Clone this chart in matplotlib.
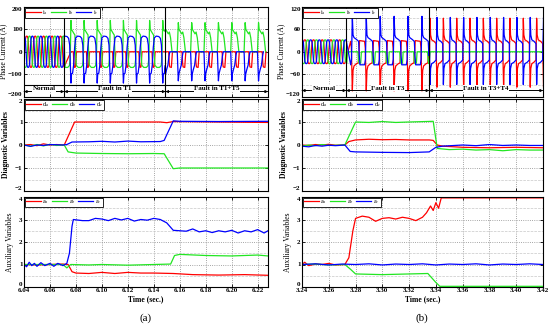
import numpy as np
import matplotlib.pyplot as plt
from matplotlib.ticker import MultipleLocator

plt.rcParams['font.family'] = ['Liberation Serif', 'DejaVu Serif']
plt.rcParams['mathtext.fontset'] = 'stix'

RED, GREEN, BLUE = '#ff0000', '#22e622', '#0000ff'

# ---------------- (a) phase currents : one cycle read per segment ----------------
a_t_start, a_t_fault1, a_t_fault2, a_t_end = 6.04, 6.071, 6.149, 6.228
a_norm_period, a_norm_first = 0.0065, 6.0405
a_f1_period, a_f1_first = 0.0101, 6.0762
a_f2_period, a_f2_first = 0.0103, 6.1589

norm_frac = [0, 1/12, 2/12, 3/12, 4/12, 5/12, 6/12, 7/12, 8/12, 9/12, 10/12, 11/12]
norm_shape = [0, 0.8, 0.97, 1.0, 0.97, 0.8, 0, -0.8, -0.97, -1.0, -0.97, -0.8]
a_norm_amp = 70

a_f1_green_frac = [0, .04, .12, .22, .30, .34, .40, .55, .75, .88, .94, .97]
a_f1_green = [140, 100, 92, 82, 75, 10, -60, -70, -70, -62, -30, 60]
a_f1_blue_frac = [0, .04, .12, .20, .28, .36, .50, .70, .82, .90, .95, .98]
a_f1_blue = [-140, -100, -96, -60, 20, 62, 70, 68, 60, 30, -60, -120]
a_f1_red_frac = [0, .18, .22, .26, .34, .38, .42]
a_f1_red = [0, 0, -50, -70, -68, -30, 0]

a_f2_green_frac = [0, .05, .15, .25, .33, .42, .48, .53, .92, .96]
a_f2_green = [130, 100, 90, 80, 88, 62, 30, 0, 0, 60]
a_f2_blue_frac = [0, .04, .12, .22, .30, .36, .92, .96]
a_f2_blue = [-130, -100, -80, -60, -20, 0, 0, -60]
a_f2_red_frac = [0, .28, .32, .36, .48, .52, .56]
a_f2_red = [0, 0, -50, -68, -70, -35, 0]

# ---------------- (b) phase currents ----------------
b_t_start, b_t_fault1, b_t_fault2, b_t_end = 3.24, 3.273, 3.335, 3.42
b_norm_period, b_norm_first = 0.0065, 3.2405
b_f1_period, b_f1_first = 0.0104, 3.2776
b_f2_period, b_f2_first = 0.00995, 3.3456
b_norm_amp = 32

b_f1_blue_frac = [0, .05, .12, .30, .45, .50, .55, .88, .94, .98]
b_f1_blue = [95, 45, 38, 33, 28, -10, -35, -35, -20, 50]
b_f1_red_frac = [0, .05, .12, .30, .42, .48, .52, .88, .93, .97]
b_f1_red = [-105, -50, -38, -32, -30, 0, 30, 28, 10, -60]
b_f1_green_frac = [0, .40, .45, .50, .60, .65]
b_f1_green = [0, 0, -25, -32, -30, 0]

b_f2_red_frac = [0, .04, .12, .30, .45, .49, .52, .56, .64, .80, .95, .98]
b_f2_red = [90, 45, 32, 28, 22, -40, -95, -45, -32, -28, -22, 40]
b_f2_blue_frac = [0, .04, .12, .30, .45, .49, .52, .56, .64, .80, .95, .98]
b_f2_blue = [-88, -45, -32, -28, -22, 40, 92, 45, 32, 28, 22, -40]
b_f2_green_frac = [0, .5]
b_f2_green = [0, 0]

# ---------------- (a) diagnostic variables ----------------
a_da_t = [6.040, 6.045, 6.050, 6.055, 6.060, 6.065, 6.071, 6.079, 6.100, 6.120, 6.145, 6.150, 6.155, 6.190, 6.228]
a_da = [0, 0.02, -0.03, 0.05, 0, 0.02, 0, 1.0, 1.0, 1.0, 1.0, 0.97, 1.02, 1.0, 0.98]
a_db_t = [6.040, 6.045, 6.050, 6.055, 6.060, 6.065, 6.071, 6.074, 6.080, 6.100, 6.120, 6.140, 6.148, 6.155, 6.160, 6.228]
a_db = [0, -0.05, 0.02, -0.04, 0.03, -0.02, 0, -0.30, -0.35, -0.37, -0.38, -0.37, -0.38, -1.03, -1.0, -1.0]
a_dc_t = [6.040, 6.045, 6.050, 6.055, 6.060, 6.070, 6.073, 6.077, 6.090, 6.100, 6.110, 6.120, 6.130, 6.145, 6.148, 6.155, 6.160, 6.190, 6.228]
a_dc = [0, -0.06, 0.0, -0.02, 0.02, 0, 0.02, 0.13, 0.14, 0.16, 0.13, 0.17, 0.14, 0.15, 0.20, 1.05, 1.03, 1.02, 1.03]

# ---------------- (a) auxiliary variables ----------------
a_aa_t = [6.040, 6.050, 6.060, 6.070, 6.074, 6.077, 6.080, 6.090, 6.100, 6.110, 6.120, 6.130, 6.140, 6.155, 6.170, 6.190, 6.210, 6.228]
a_aa = [1.0, 0.98, 1.0, 1.02, 1.0, 0.68, 0.62, 0.60, 0.65, 0.60, 0.65, 0.62, 0.62, 0.60, 0.55, 0.53, 0.55, 0.52]
a_ab_t = [6.040, 6.070, 6.073, 6.076, 6.090, 6.100, 6.120, 6.140, 6.153, 6.156, 6.160, 6.180, 6.200, 6.220, 6.228]
a_ab = [1.0, 1.0, 0.85, 1.0, 0.98, 1.0, 0.97, 1.0, 1.02, 1.40, 1.45, 1.40, 1.38, 1.42, 1.38]
a_ac_t = [6.040, 6.042, 6.044, 6.046, 6.048, 6.050, 6.053, 6.056, 6.060, 6.063, 6.066, 6.070, 6.073,
          6.075, 6.077, 6.078, 6.085, 6.090, 6.095, 6.100, 6.105, 6.110, 6.115, 6.120, 6.125, 6.130,
          6.135, 6.140, 6.145, 6.150, 6.155, 6.160, 6.165, 6.170, 6.175, 6.180, 6.185, 6.190, 6.195,
          6.200, 6.205, 6.210, 6.215, 6.220, 6.225, 6.228]
a_ac = [1.0, 0.9, 1.1, 0.95, 1.05, 0.92, 1.08, 0.95, 1.05, 0.92, 1.05, 0.95, 1.05,
        1.5, 2.7, 3.0, 2.95, 2.95, 3.05, 3.02, 2.95, 3.05, 2.98, 3.05, 2.93, 3.0,
        2.97, 3.05, 3.0, 2.85, 2.52, 2.5, 2.48, 2.58, 2.45, 2.5, 2.42, 2.5, 2.45,
        2.52, 2.4, 2.5, 2.45, 2.55, 2.4, 2.5]

# ---------------- (b) diagnostic variables ----------------
b_da_t = [3.240, 3.245, 3.250, 3.255, 3.260, 3.265, 3.272, 3.275, 3.280, 3.290, 3.300, 3.310, 3.320, 3.335, 3.338, 3.341, 3.345, 3.360, 3.380, 3.400, 3.420]
b_da = [0, -0.02, 0.02, 0.0, 0.03, -0.01, 0, 0.15, 0.22, 0.25, 0.23, 0.24, 0.22, 0.22, 0.20, 0.0, -0.05, -0.10, -0.12, -0.10, -0.12]
b_db_t = [3.240, 3.245, 3.250, 3.255, 3.260, 3.272, 3.280, 3.290, 3.300, 3.310, 3.320, 3.338, 3.341, 3.350, 3.360, 3.370, 3.380, 3.390, 3.400, 3.410, 3.420]
b_db = [-0.05, 0, -0.03, 0.02, -0.02, 0, 1.0, 0.98, 1.02, 0.98, 1.0, 1.03, -0.15, -0.20, -0.18, -0.22, -0.20, -0.25, -0.20, -0.22, -0.22]
b_dc_t = [3.240, 3.245, 3.250, 3.255, 3.260, 3.265, 3.272, 3.276, 3.280, 3.300, 3.320, 3.335, 3.340, 3.345, 3.360, 3.370, 3.380, 3.390, 3.400, 3.410, 3.420]
b_dc = [-0.05, -0.08, -0.02, -0.05, -0.01, -0.03, 0, -0.28, -0.30, -0.32, -0.33, -0.30, -0.10, -0.05, 0.0, -0.03, 0.02, -0.02, 0.0, -0.02, -0.02]

# ---------------- (b) auxiliary variables ----------------
b_aa_t = [3.240, 3.242, 3.245, 3.250, 3.255, 3.260, 3.265, 3.272, 3.275, 3.278, 3.280, 3.285, 3.290, 3.295,
          3.300, 3.305, 3.310, 3.315, 3.320, 3.325, 3.330, 3.333, 3.336, 3.338, 3.340, 3.342, 3.344, 3.420]
b_aa = [1.0, 1.1, 0.95, 1.02, 1.0, 1.05, 0.98, 1.0, 1.3, 2.5, 3.05, 3.15, 3.1, 2.92,
        3.05, 3.08, 3.02, 3.1, 3.05, 2.95, 3.1, 3.3, 3.6, 3.4, 3.75, 3.5, 3.96, 3.96]
b_ab_t = [3.240, 3.250, 3.260, 3.272, 3.276, 3.280, 3.300, 3.320, 3.334, 3.340, 3.343, 3.420]
b_ab = [1.0, 1.02, 0.98, 1.0, 0.8, 0.58, 0.55, 0.58, 0.60, 0.20, 0.03, 0.03]
b_ac_t = [3.240, 3.250, 3.260, 3.270, 3.280, 3.290, 3.300, 3.310, 3.320, 3.330, 3.340, 3.350, 3.360, 3.370, 3.380, 3.390, 3.400, 3.410, 3.420]
b_ac = [1.0, 1.03, 0.98, 1.02, 1.0, 1.03, 0.98, 1.02, 1.0, 1.03, 0.98, 1.02, 1.0, 1.03, 0.98, 1.02, 1.0, 1.03, 1.0]


def tile_cycle(t_first, period, t_lo, t_hi, frac, vals):
    frac = np.asarray(frac, float)
    vals = np.asarray(vals, float)
    k0 = int(np.floor((t_lo - t_first) / period)) - 1
    k1 = int(np.ceil((t_hi - t_first) / period)) + 1
    t = np.concatenate([t_first + (k + frac) * period for k in range(k0, k1)])
    v = np.tile(vals, k1 - k0)
    keep = (t >= t_lo) & (t < t_hi)
    return t[keep], v[keep]


def join(*parts):
    return np.concatenate([p[0] for p in parts]), np.concatenate([p[1] for p in parts])


def style_axis(ax, xlim, ylim, major, minor, xlabels=False):
    ax.set_xlim(*xlim)
    ax.set_ylim(*ylim)
    ax.xaxis.set_major_locator(MultipleLocator(0.02))
    ax.yaxis.set_major_locator(MultipleLocator(major))
    ax.yaxis.set_minor_locator(MultipleLocator(minor))
    ax.grid(True, which='major', color='#888888', ls=':', lw=0.6)
    ax.grid(True, which='minor', axis='y', color='#c8c8c8', ls='--', lw=0.5)
    ax.tick_params(direction='in', top=True, right=True, length=2, width=0.6, labelsize=5, pad=1)
    ax.tick_params(which='minor', length=0, left=False, right=False)
    if not xlabels:
        ax.tick_params(labelbottom=False)
    for s in ax.spines.values():
        s.set_linewidth(0.8)


def legend(ax, names):
    leg = ax.legend(names, loc='upper left', bbox_to_anchor=(0, 1), borderaxespad=0.1, ncol=3,
                    fontsize=4.5, handlelength=2.4, handletextpad=0.3, columnspacing=0.4,
                    borderpad=0.15, fancybox=False, framealpha=1, edgecolor='black')
    leg.get_frame().set_linewidth(0.6)


def segment_arrow(ax, x0, x1, y, ytxt, text):
    ax.annotate('', xy=(x0, y), xytext=(x1, y),
                arrowprops=dict(arrowstyle='<|-|>', color='k', lw=0.6, mutation_scale=4,
                                shrinkA=0, shrinkB=0))
    ax.annotate('', xy=(x0, y), xytext=(x1, y),
                arrowprops=dict(arrowstyle='|-|, widthA=0.25, widthB=0.25', color='k', lw=0.6,
                                shrinkA=0, shrinkB=0))
    ax.text((x0 + x1) / 2, ytxt, text, ha='center', va='center', fontsize=5, fontweight='bold',
            bbox=dict(facecolor='white', edgecolor='none', pad=0.3))


fig = plt.figure(figsize=(5.5, 3.27), dpi=100)
W, H = 550, 327


def px_axes(x0, y0, x1, y1):
    return fig.add_axes([x0 / W, 1 - y1 / H, (x1 - x0) / W, (y1 - y0) / H])


cols = [(24, 268), (302, 543)]
rows = [(7, 96.5), (99, 191), (197, 287)]
ax = {}
for c, (xa, xb) in enumerate(cols):
    for r, (ya, yb) in enumerate(rows):
        ax[r, c] = px_axes(xa, ya, xb, yb)

# ----- (a) courants -----
t, v = join(tile_cycle(a_norm_first, a_norm_period, a_t_start, a_t_fault1, norm_frac, np.array(norm_shape) * a_norm_amp),
            tile_cycle(a_f1_first, a_f1_period, a_t_fault1, a_t_fault2, a_f1_red_frac, a_f1_red),
            tile_cycle(a_f2_first, a_f2_period, a_t_fault2, a_t_end + 0.001, a_f2_red_frac, a_f2_red))
ax[0, 0].plot(t, v, color=RED, lw=0.9)
t, v = join(tile_cycle(a_norm_first + a_norm_period / 3, a_norm_period, a_t_start, a_t_fault1, norm_frac, np.array(norm_shape) * a_norm_amp),
            tile_cycle(a_f1_first, a_f1_period, a_t_fault1, a_t_fault2, a_f1_green_frac, a_f1_green),
            tile_cycle(a_f2_first, a_f2_period, a_t_fault2, a_t_end + 0.001, a_f2_green_frac, a_f2_green))
ax[0, 0].plot(t, v, color=GREEN, lw=0.9)
t, v = join(tile_cycle(a_norm_first + 2 * a_norm_period / 3, a_norm_period, a_t_start, a_t_fault1, norm_frac, np.array(norm_shape) * a_norm_amp),
            tile_cycle(a_f1_first, a_f1_period, a_t_fault1, a_t_fault2, a_f1_blue_frac, a_f1_blue),
            tile_cycle(a_f2_first, a_f2_period, a_t_fault2, a_t_end + 0.001, a_f2_blue_frac, a_f2_blue))
ax[0, 0].plot(t, v, color=BLUE, lw=0.9)
style_axis(ax[0, 0], (a_t_start, a_t_end), (-200, 200), 100, 50)
legend(ax[0, 0], ['i$_a$', 'i$_b$', 'i$_c$'])
for tf in (a_t_fault1, a_t_fault2):
    ax[0, 0].axvline(tf, color='k', lw=0.8)
ax[0, 0].axhline(-150, color='k', lw=0.8)
segment_arrow(ax[0, 0], a_t_start, a_t_fault1, -178, -166, 'Normal')
segment_arrow(ax[0, 0], a_t_fault1, a_t_fault2, -178, -166, 'Fault in T1')
segment_arrow(ax[0, 0], a_t_fault2, a_t_end, -178, -166, 'Fault in T1+T5')
ax[0, 0].set_ylabel('Phase Current (A)', fontsize=5.5, labelpad=0.5)

# ----- (b) courants -----
t, v = join(tile_cycle(b_norm_first, b_norm_period, b_t_start, b_t_fault1, norm_frac, np.array(norm_shape) * b_norm_amp),
            tile_cycle(b_f1_first, b_f1_period, b_t_fault1, b_t_fault2, b_f1_red_frac, b_f1_red),
            tile_cycle(b_f2_first, b_f2_period, b_t_fault2, b_t_end + 0.001, b_f2_red_frac, b_f2_red))
ax[0, 1].plot(t, v, color=RED, lw=0.9)
t, v = join(tile_cycle(b_norm_first + b_norm_period / 3, b_norm_period, b_t_start, b_t_fault1, norm_frac, np.array(norm_shape) * b_norm_amp),
            tile_cycle(b_f1_first, b_f1_period, b_t_fault1, b_t_fault2, b_f1_green_frac, b_f1_green),
            tile_cycle(b_f2_first, b_f2_period, b_t_fault2, b_t_end + 0.001, b_f2_green_frac, b_f2_green))
ax[0, 1].plot(t, v, color=GREEN, lw=0.9)
t, v = join(tile_cycle(b_norm_first + 2 * b_norm_period / 3, b_norm_period, b_t_start, b_t_fault1, norm_frac, np.array(norm_shape) * b_norm_amp),
            tile_cycle(b_f1_first, b_f1_period, b_t_fault1, b_t_fault2, b_f1_blue_frac, b_f1_blue),
            tile_cycle(b_f2_first, b_f2_period, b_t_fault2, b_t_end + 0.001, b_f2_blue_frac, b_f2_blue))
ax[0, 1].plot(t, v, color=BLUE, lw=0.9)
style_axis(ax[0, 1], (b_t_start, b_t_end), (-120, 120), 60, 30)
legend(ax[0, 1], ['i$_a$', 'i$_b$', 'i$_c$'])
for tf in (b_t_fault1, b_t_fault2):
    ax[0, 1].axvline(tf, color='k', lw=0.8)
segment_arrow(ax[0, 1], b_t_start, b_t_fault1, -104, -98, 'Normal')
segment_arrow(ax[0, 1], b_t_fault1, b_t_fault2, -104, -98, 'Fault in T3')
segment_arrow(ax[0, 1], b_t_fault2, b_t_end, -104, -98, 'Fault in T3+T4')
ax[0, 1].set_ylabel('Phase Current (A)', fontsize=5.5, labelpad=0.5)

# ----- variables de diagnostic et auxiliaires -----
diag = {0: [(a_da_t, a_da), (a_db_t, a_db), (a_dc_t, a_dc)],
        1: [(b_da_t, b_da), (b_db_t, b_db), (b_dc_t, b_dc)]}
aux = {0: [(a_aa_t, a_aa), (a_ab_t, a_ab), (a_ac_t, a_ac)],
       1: [(b_aa_t, b_aa), (b_ab_t, b_ab), (b_ac_t, b_ac)]}
xlims = {0: (a_t_start, a_t_end), 1: (b_t_start, b_t_end)}

for c in (0, 1):
    for (tt, vv), col in zip(diag[c], (RED, GREEN, BLUE)):
        ax[1, c].plot(tt, vv, color=col, lw=0.9)
    style_axis(ax[1, c], xlims[c], (-2, 2), 1, 0.5)
    legend(ax[1, c], ['d$_a$', 'd$_b$', 'd$_c$'])
    ax[1, c].set_ylabel('Diagnostic Variables', fontsize=5.5, fontweight='bold', labelpad=3.5)

    for (tt, vv), col in zip(aux[c], (RED, GREEN, BLUE)):
        ax[2, c].plot(tt, vv, color=col, lw=0.9)
    style_axis(ax[2, c], xlims[c], (0, 4), 1, 0.5, xlabels=True)
    legend(ax[2, c], ['a$_a$', 'a$_b$', 'a$_c$'])
    ax[2, c].set_ylabel('Auxiliary Variables', fontsize=5.5, labelpad=3.5)
    ax[2, c].set_xlabel('Time (sec.)', fontsize=5.5, fontweight='bold', labelpad=1)

fig.text(146 / W, 1 - 318 / H, '(a)', ha='center', va='center', fontsize=8)
fig.text(422 / W, 1 - 318 / H, '(b)', ha='center', va='center', fontsize=8)

# etiquettes en gras, les extremes restent dans la hauteur du panneau
fig.canvas.draw()
for a in ax.values():
    for tk in a.xaxis.get_major_ticks():
        tk.label1.set_fontweight('bold')
    yt = [tk for tk in a.yaxis.get_major_ticks()
          if a.get_ylim()[0] - 1e-9 <= tk.get_loc() <= a.get_ylim()[1] + 1e-9]
    for tk in yt:
        tk.label1.set_fontweight('bold')
    yt[0].label1.set_va('bottom')
    yt[-1].label1.set_va('top')

fig.savefig('out.png', dpi=100)
